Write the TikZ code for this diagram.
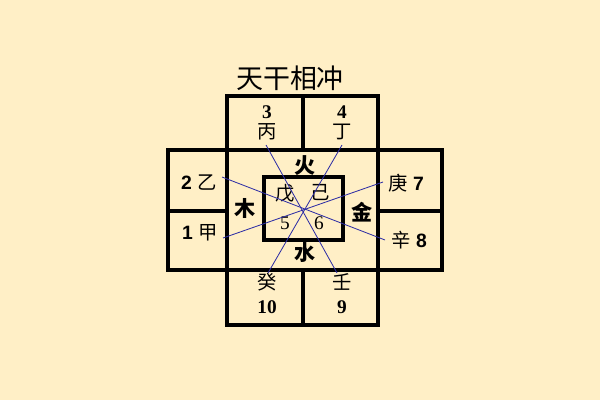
\documentclass[tikz,border=0pt]{standalone}
\usepackage{fontspec}
\setmainfont{Liberation Serif}
\setsansfont{Liberation Sans}
\newfontfamily\cjk{Noto Sans CJK SC}
\usepackage{tikz}
\usetikzlibrary{positioning}
\definecolor{paper}{RGB}{255,239,198}
\definecolor{crossblue}{RGB}{45,45,165}

\begin{document}
\begin{tikzpicture}[x=0.03cm,y=-0.03cm]
\tikzstyle{frame}=[line width=2.6pt, draw=black, line join=miter]
\tikzstyle{stem}=[inner sep=0pt, font=\cjk\fontsize{16.5}{16.5}\selectfont]
\tikzstyle{elem}=[inner sep=0pt, font=\cjk\bfseries\fontsize{18}{18}\selectfont]
\tikzstyle{num}=[inner sep=0pt, font=\bfseries\fontsize{16.5}{16.5}\selectfont]
\tikzstyle{inner}=[inner sep=0pt, font=\fontsize{16.5}{16.5}\selectfont]
\tikzstyle{cross}=[crossblue, line width=0.7pt]
\fill[paper] (0,0) rectangle (600,400);
\useasboundingbox (0,0) rectangle (600,400);
	% boxes
	\draw[frame] (227,96) rectangle (378,150) (303,96) -- (303,150);
	\draw[frame] (168,150) rectangle (442,270);
	\draw[frame] (227,150) -- (227,270) (378,150) -- (378,270);
	\draw[frame] (168,211) -- (227,211) (378,211) -- (442,211);
	\draw[frame] (227,270) rectangle (378,325) (303,270) -- (303,325);
	\draw[frame] (264,177) rectangle (343,240);

	\node[inner sep=0pt, font=\cjk\fontsize{23}{23}\selectfont] (title) at (290,78) {天干相冲};

	\node[num] (n3) at (267,112) {3};
	\node[stem] (bing) at (267,132) {丙};
	\node[num] (n4) at (342,112) {4};
	\node[stem] (ding) at (342,132) {丁};
	\node[stem] (yi) at (199,183) {\sffamily\bfseries 2\hspace{0.3em}\cjk\mdseries 乙};
	\node[stem] (jia) at (200,233) {\sffamily\bfseries 1\hspace{0.3em}\cjk\mdseries 甲};
	\node[stem] (geng) at (406,183) {庚\hspace{0.3em}\sffamily\bfseries 7};
	\node[stem] (xin) at (409,240) {辛\hspace{0.3em}\sffamily\bfseries 8};
	\node[stem] (gui) at (267,282) {癸};
	\node[num] (n10) at (267,307) {10};
	\node[stem] (ren) at (342,282) {壬};
	\node[num] (n9) at (342,307) {9};

	\node[elem] (huo) at (305,166) {火};
	\node[elem] (mu) at (245,208) {木};
	\node[elem] (jin) at (362,212) {金};
	\node[elem] (shui) at (305,252) {水};

	\node[stem] (wu) at (285,193) {戊};
	\node[stem] (ji) at (320,193) {己};
	\node[inner] (n5) at (285,223) {5};
	\node[inner] (n6) at (319,223) {6};

	\coordinate (c_bing) at (266,145);
	\coordinate (c_ding) at (342,145);
	\coordinate (c_yi) at (222,177);
	\coordinate (c_jia) at (223,238);
	\coordinate (c_geng) at (383,182);
	\coordinate (c_xin) at (385,240);
	\coordinate (c_gui) at (268,273);
	\coordinate (c_ren) at (337,273);

	\path
		(c_bing) edge[cross] (c_ren)
		(c_ding) edge[cross] (c_gui)
		(c_yi) edge[cross] (c_xin)
		(c_jia) edge[cross] (c_geng);

\end{tikzpicture}
\end{document}
